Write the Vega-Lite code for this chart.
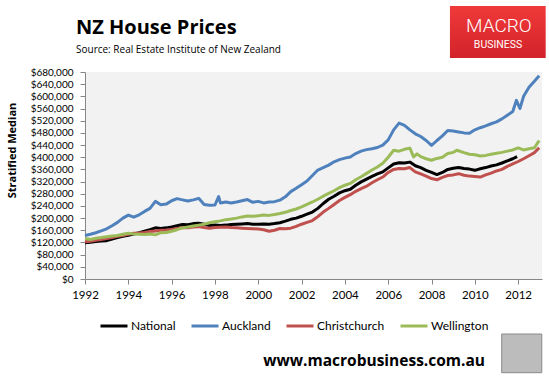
{
  "$schema": "https://vega.github.io/schema/vega-lite/v6.json",
  "autosize": {"type": "none"},
  "width": 457,
  "height": 207,
  "padding": {"left": 85, "top": 72, "right": 7, "bottom": 104},
  "background": "#ffffff",
  "config": {
    "view": {"fill": "#f2f2f2", "stroke": null},
    "font": "Lato",
    "axis": {
      "grid": false,
      "domainColor": "#868686",
      "tickColor": "#868686",
      "tickSize": 5,
      "labelFont": "Lato",
      "labelFontSize": 11,
      "labelColor": "#000000",
      "labelOverlap": false,
      "labelFlush": false,
      "titleFont": "Open Sans",
      "titleFontSize": 11,
      "titleFontWeight": "bold",
      "titleColor": "#000000"
    },
    "axisX": {"labelPadding": 5, "labelFontSize": 11.5},
    "axisY": {"labelPadding": 7, "labelFontSize": 10, "titleX": -73, "titleY": 78, "titleAngle": -90, "titleAlign": "center", "titleBaseline": "middle"}
  },
  "title": {
    "text": "NZ House Prices",
    "subtitle": "Source: Real Estate Institute of New Zealand",
    "anchor": "start",
    "frame": "group",
    "font": "Open Sans",
    "fontSize": 20,
    "fontWeight": "bold",
    "color": "#000000",
    "subtitleFont": "Open Sans",
    "subtitleFontSize": 10,
    "subtitleColor": "#000000",
    "subtitlePadding": 7,
    "offset": -49,
    "dx": -9
  },
  "data": {"values": [
    {"s":"National","t":1992,"v":119000},{"s":"National","t":1992.25,"v":121000},{"s":"National","t":1992.5,"v":123000},{"s":"National","t":1992.75,"v":125000},
    {"s":"National","t":1993,"v":126000},{"s":"National","t":1993.25,"v":131000},{"s":"National","t":1993.5,"v":136000},{"s":"National","t":1993.75,"v":140000},
    {"s":"National","t":1994,"v":144000},{"s":"National","t":1994.25,"v":148000},{"s":"National","t":1994.5,"v":152000},{"s":"National","t":1994.75,"v":157000},
    {"s":"National","t":1995,"v":162000},{"s":"National","t":1995.25,"v":168000},{"s":"National","t":1995.5,"v":166000},{"s":"National","t":1995.75,"v":168000},
    {"s":"National","t":1996,"v":171000},{"s":"National","t":1996.25,"v":175000},{"s":"National","t":1996.5,"v":179000},{"s":"National","t":1996.75,"v":178000},
    {"s":"National","t":1997,"v":182000},{"s":"National","t":1997.25,"v":183000},{"s":"National","t":1997.5,"v":180000},{"s":"National","t":1997.75,"v":176000},
    {"s":"National","t":1998,"v":177000},{"s":"National","t":1998.25,"v":176000},{"s":"National","t":1998.5,"v":177000},{"s":"National","t":1998.75,"v":179000},
    {"s":"National","t":1999,"v":180000},{"s":"National","t":1999.25,"v":181000},{"s":"National","t":1999.5,"v":182000},{"s":"National","t":1999.75,"v":180000},
    {"s":"National","t":2000,"v":180000},{"s":"National","t":2000.25,"v":181000},{"s":"National","t":2000.5,"v":180000},{"s":"National","t":2000.75,"v":182000},
    {"s":"National","t":2001,"v":185000},{"s":"National","t":2001.25,"v":190000},{"s":"National","t":2001.5,"v":196000},{"s":"National","t":2001.75,"v":200000},
    {"s":"National","t":2002,"v":206000},{"s":"National","t":2002.25,"v":213000},{"s":"National","t":2002.5,"v":220000},{"s":"National","t":2002.75,"v":232000},
    {"s":"National","t":2003,"v":248000},{"s":"National","t":2003.25,"v":262000},{"s":"National","t":2003.5,"v":272000},{"s":"National","t":2003.75,"v":283000},
    {"s":"National","t":2004,"v":290000},{"s":"National","t":2004.25,"v":295000},{"s":"National","t":2004.5,"v":308000},{"s":"National","t":2004.75,"v":319000},
    {"s":"National","t":2005,"v":328000},{"s":"National","t":2005.25,"v":337000},{"s":"National","t":2005.5,"v":345000},{"s":"National","t":2005.75,"v":352000},
    {"s":"National","t":2006,"v":365000},{"s":"National","t":2006.25,"v":378000},{"s":"National","t":2006.5,"v":382000},{"s":"National","t":2006.75,"v":381000},
    {"s":"National","t":2007,"v":384000},{"s":"National","t":2007.25,"v":372000},{"s":"National","t":2007.5,"v":366000},{"s":"National","t":2007.75,"v":357000},
    {"s":"National","t":2008,"v":350000},{"s":"National","t":2008.25,"v":343000},{"s":"National","t":2008.5,"v":350000},{"s":"National","t":2008.75,"v":360000},
    {"s":"National","t":2009,"v":364000},{"s":"National","t":2009.25,"v":366000},{"s":"National","t":2009.5,"v":363000},{"s":"National","t":2009.75,"v":361000},
    {"s":"National","t":2010,"v":357000},{"s":"National","t":2010.25,"v":362000},{"s":"National","t":2010.5,"v":366000},{"s":"National","t":2010.75,"v":371000},
    {"s":"National","t":2011,"v":375000},{"s":"National","t":2011.25,"v":381000},{"s":"National","t":2011.5,"v":388000},{"s":"National","t":2011.75,"v":395000},
    {"s":"National","t":2011.95,"v":402000},

    {"s":"Auckland","t":1992,"v":143000},{"s":"Auckland","t":1992.25,"v":147000},{"s":"Auckland","t":1992.5,"v":152000},{"s":"Auckland","t":1992.75,"v":158000},
    {"s":"Auckland","t":1993,"v":165000},{"s":"Auckland","t":1993.25,"v":175000},{"s":"Auckland","t":1993.5,"v":186000},{"s":"Auckland","t":1993.75,"v":200000},
    {"s":"Auckland","t":1994,"v":210000},{"s":"Auckland","t":1994.25,"v":203000},{"s":"Auckland","t":1994.5,"v":211000},{"s":"Auckland","t":1994.75,"v":222000},
    {"s":"Auckland","t":1995,"v":232000},{"s":"Auckland","t":1995.25,"v":255000},{"s":"Auckland","t":1995.5,"v":244000},{"s":"Auckland","t":1995.75,"v":246000},
    {"s":"Auckland","t":1996,"v":257000},{"s":"Auckland","t":1996.25,"v":264000},{"s":"Auckland","t":1996.5,"v":260000},{"s":"Auckland","t":1996.75,"v":256000},
    {"s":"Auckland","t":1997,"v":260000},{"s":"Auckland","t":1997.25,"v":265000},{"s":"Auckland","t":1997.5,"v":245000},{"s":"Auckland","t":1997.75,"v":242000},
    {"s":"Auckland","t":1998,"v":243000},{"s":"Auckland","t":1998.17,"v":271000},{"s":"Auckland","t":1998.25,"v":250000},{"s":"Auckland","t":1998.5,"v":253000},
    {"s":"Auckland","t":1998.75,"v":250000},{"s":"Auckland","t":1999,"v":253000},{"s":"Auckland","t":1999.25,"v":257000},{"s":"Auckland","t":1999.5,"v":261000},
    {"s":"Auckland","t":1999.75,"v":252000},{"s":"Auckland","t":2000,"v":255000},{"s":"Auckland","t":2000.25,"v":250000},{"s":"Auckland","t":2000.5,"v":253000},
    {"s":"Auckland","t":2000.75,"v":254000},{"s":"Auckland","t":2001,"v":259000},{"s":"Auckland","t":2001.25,"v":270000},{"s":"Auckland","t":2001.5,"v":287000},
    {"s":"Auckland","t":2001.75,"v":298000},{"s":"Auckland","t":2002,"v":310000},{"s":"Auckland","t":2002.25,"v":322000},{"s":"Auckland","t":2002.5,"v":340000},
    {"s":"Auckland","t":2002.75,"v":358000},{"s":"Auckland","t":2003,"v":366000},{"s":"Auckland","t":2003.25,"v":374000},{"s":"Auckland","t":2003.5,"v":385000},
    {"s":"Auckland","t":2003.75,"v":392000},{"s":"Auckland","t":2004,"v":397000},{"s":"Auckland","t":2004.25,"v":401000},{"s":"Auckland","t":2004.5,"v":412000},
    {"s":"Auckland","t":2004.75,"v":420000},{"s":"Auckland","t":2005,"v":425000},{"s":"Auckland","t":2005.25,"v":428000},{"s":"Auckland","t":2005.5,"v":432000},
    {"s":"Auckland","t":2005.75,"v":440000},{"s":"Auckland","t":2006,"v":457000},{"s":"Auckland","t":2006.25,"v":490000},{"s":"Auckland","t":2006.5,"v":512000},
    {"s":"Auckland","t":2006.75,"v":505000},{"s":"Auckland","t":2007,"v":490000},{"s":"Auckland","t":2007.25,"v":477000},{"s":"Auckland","t":2007.5,"v":468000},
    {"s":"Auckland","t":2007.75,"v":455000},{"s":"Auckland","t":2008,"v":439000},{"s":"Auckland","t":2008.25,"v":455000},{"s":"Auckland","t":2008.5,"v":470000},
    {"s":"Auckland","t":2008.75,"v":488000},{"s":"Auckland","t":2009,"v":486000},{"s":"Auckland","t":2009.25,"v":483000},{"s":"Auckland","t":2009.5,"v":480000},
    {"s":"Auckland","t":2009.75,"v":479000},{"s":"Auckland","t":2010,"v":490000},{"s":"Auckland","t":2010.25,"v":497000},{"s":"Auckland","t":2010.5,"v":503000},
    {"s":"Auckland","t":2010.75,"v":510000},{"s":"Auckland","t":2011,"v":516000},{"s":"Auckland","t":2011.25,"v":526000},{"s":"Auckland","t":2011.5,"v":538000},
    {"s":"Auckland","t":2011.75,"v":550000},{"s":"Auckland","t":2011.92,"v":587000},{"s":"Auckland","t":2012.08,"v":560000},{"s":"Auckland","t":2012.25,"v":600000},
    {"s":"Auckland","t":2012.5,"v":630000},{"s":"Auckland","t":2012.75,"v":650000},{"s":"Auckland","t":2012.97,"v":668000},

    {"s":"Christchurch","t":1992,"v":122000},{"s":"Christchurch","t":1992.25,"v":124000},{"s":"Christchurch","t":1992.5,"v":127000},{"s":"Christchurch","t":1992.75,"v":130000},
    {"s":"Christchurch","t":1993,"v":133000},{"s":"Christchurch","t":1993.25,"v":136000},{"s":"Christchurch","t":1993.5,"v":140000},{"s":"Christchurch","t":1993.75,"v":143000},
    {"s":"Christchurch","t":1994,"v":147000},{"s":"Christchurch","t":1994.25,"v":150000},{"s":"Christchurch","t":1994.5,"v":151000},{"s":"Christchurch","t":1994.75,"v":153000},
    {"s":"Christchurch","t":1995,"v":156000},{"s":"Christchurch","t":1995.25,"v":158000},{"s":"Christchurch","t":1995.5,"v":160000},{"s":"Christchurch","t":1995.75,"v":161000},
    {"s":"Christchurch","t":1996,"v":163000},{"s":"Christchurch","t":1996.25,"v":166000},{"s":"Christchurch","t":1996.5,"v":169000},{"s":"Christchurch","t":1996.75,"v":168000},
    {"s":"Christchurch","t":1997,"v":171000},{"s":"Christchurch","t":1997.25,"v":172000},{"s":"Christchurch","t":1997.5,"v":169000},{"s":"Christchurch","t":1997.75,"v":167000},
    {"s":"Christchurch","t":1998,"v":169000},{"s":"Christchurch","t":1998.25,"v":170000},{"s":"Christchurch","t":1998.5,"v":171000},{"s":"Christchurch","t":1998.75,"v":169000},
    {"s":"Christchurch","t":1999,"v":168000},{"s":"Christchurch","t":1999.25,"v":167000},{"s":"Christchurch","t":1999.5,"v":166000},{"s":"Christchurch","t":1999.75,"v":165000},
    {"s":"Christchurch","t":2000,"v":164000},{"s":"Christchurch","t":2000.25,"v":162000},{"s":"Christchurch","t":2000.5,"v":157000},{"s":"Christchurch","t":2000.75,"v":160000},
    {"s":"Christchurch","t":2001,"v":166000},{"s":"Christchurch","t":2001.25,"v":165000},{"s":"Christchurch","t":2001.5,"v":167000},{"s":"Christchurch","t":2001.75,"v":173000},
    {"s":"Christchurch","t":2002,"v":180000},{"s":"Christchurch","t":2002.25,"v":186000},{"s":"Christchurch","t":2002.5,"v":192000},{"s":"Christchurch","t":2002.75,"v":205000},
    {"s":"Christchurch","t":2003,"v":220000},{"s":"Christchurch","t":2003.25,"v":232000},{"s":"Christchurch","t":2003.5,"v":245000},{"s":"Christchurch","t":2003.75,"v":258000},
    {"s":"Christchurch","t":2004,"v":268000},{"s":"Christchurch","t":2004.25,"v":277000},{"s":"Christchurch","t":2004.5,"v":288000},{"s":"Christchurch","t":2004.75,"v":297000},
    {"s":"Christchurch","t":2005,"v":305000},{"s":"Christchurch","t":2005.25,"v":316000},{"s":"Christchurch","t":2005.5,"v":326000},{"s":"Christchurch","t":2005.75,"v":335000},
    {"s":"Christchurch","t":2006,"v":350000},{"s":"Christchurch","t":2006.25,"v":360000},{"s":"Christchurch","t":2006.5,"v":363000},{"s":"Christchurch","t":2006.75,"v":362000},
    {"s":"Christchurch","t":2007,"v":366000},{"s":"Christchurch","t":2007.25,"v":352000},{"s":"Christchurch","t":2007.5,"v":345000},{"s":"Christchurch","t":2007.75,"v":338000},
    {"s":"Christchurch","t":2008,"v":330000},{"s":"Christchurch","t":2008.25,"v":326000},{"s":"Christchurch","t":2008.5,"v":334000},{"s":"Christchurch","t":2008.75,"v":340000},
    {"s":"Christchurch","t":2009,"v":342000},{"s":"Christchurch","t":2009.25,"v":346000},{"s":"Christchurch","t":2009.5,"v":341000},{"s":"Christchurch","t":2009.75,"v":338000},
    {"s":"Christchurch","t":2010,"v":337000},{"s":"Christchurch","t":2010.25,"v":335000},{"s":"Christchurch","t":2010.5,"v":342000},{"s":"Christchurch","t":2010.75,"v":348000},
    {"s":"Christchurch","t":2011,"v":355000},{"s":"Christchurch","t":2011.25,"v":360000},{"s":"Christchurch","t":2011.5,"v":370000},{"s":"Christchurch","t":2011.75,"v":378000},
    {"s":"Christchurch","t":2012,"v":386000},{"s":"Christchurch","t":2012.25,"v":395000},{"s":"Christchurch","t":2012.5,"v":405000},{"s":"Christchurch","t":2012.75,"v":415000},
    {"s":"Christchurch","t":2012.97,"v":431000},

    {"s":"Wellington","t":1992,"v":133000},{"s":"Wellington","t":1992.25,"v":130000},{"s":"Wellington","t":1992.5,"v":134000},{"s":"Wellington","t":1992.75,"v":136000},
    {"s":"Wellington","t":1993,"v":139000},{"s":"Wellington","t":1993.25,"v":141000},{"s":"Wellington","t":1993.5,"v":143000},{"s":"Wellington","t":1993.75,"v":147000},
    {"s":"Wellington","t":1994,"v":150000},{"s":"Wellington","t":1994.25,"v":148000},{"s":"Wellington","t":1994.5,"v":147000},{"s":"Wellington","t":1994.75,"v":146000},
    {"s":"Wellington","t":1995,"v":148000},{"s":"Wellington","t":1995.25,"v":145000},{"s":"Wellington","t":1995.5,"v":152000},{"s":"Wellington","t":1995.75,"v":153000},
    {"s":"Wellington","t":1996,"v":157000},{"s":"Wellington","t":1996.25,"v":162000},{"s":"Wellington","t":1996.5,"v":168000},{"s":"Wellington","t":1996.75,"v":171000},
    {"s":"Wellington","t":1997,"v":174000},{"s":"Wellington","t":1997.25,"v":177000},{"s":"Wellington","t":1997.5,"v":180000},{"s":"Wellington","t":1997.75,"v":185000},
    {"s":"Wellington","t":1998,"v":188000},{"s":"Wellington","t":1998.25,"v":191000},{"s":"Wellington","t":1998.5,"v":195000},{"s":"Wellington","t":1998.75,"v":197000},
    {"s":"Wellington","t":1999,"v":200000},{"s":"Wellington","t":1999.25,"v":204000},{"s":"Wellington","t":1999.5,"v":207000},{"s":"Wellington","t":1999.75,"v":206000},
    {"s":"Wellington","t":2000,"v":208000},{"s":"Wellington","t":2000.25,"v":210000},{"s":"Wellington","t":2000.5,"v":209000},{"s":"Wellington","t":2000.75,"v":212000},
    {"s":"Wellington","t":2001,"v":215000},{"s":"Wellington","t":2001.25,"v":219000},{"s":"Wellington","t":2001.5,"v":225000},{"s":"Wellington","t":2001.75,"v":230000},
    {"s":"Wellington","t":2002,"v":237000},{"s":"Wellington","t":2002.25,"v":245000},{"s":"Wellington","t":2002.5,"v":253000},{"s":"Wellington","t":2002.75,"v":262000},
    {"s":"Wellington","t":2003,"v":272000},{"s":"Wellington","t":2003.25,"v":281000},{"s":"Wellington","t":2003.5,"v":290000},{"s":"Wellington","t":2003.75,"v":300000},
    {"s":"Wellington","t":2004,"v":308000},{"s":"Wellington","t":2004.25,"v":314000},{"s":"Wellington","t":2004.5,"v":326000},{"s":"Wellington","t":2004.75,"v":336000},
    {"s":"Wellington","t":2005,"v":347000},{"s":"Wellington","t":2005.25,"v":358000},{"s":"Wellington","t":2005.5,"v":368000},{"s":"Wellington","t":2005.75,"v":380000},
    {"s":"Wellington","t":2006,"v":400000},{"s":"Wellington","t":2006.25,"v":423000},{"s":"Wellington","t":2006.5,"v":420000},{"s":"Wellington","t":2006.75,"v":426000},
    {"s":"Wellington","t":2007,"v":430000},{"s":"Wellington","t":2007.17,"v":401000},{"s":"Wellington","t":2007.33,"v":411000},{"s":"Wellington","t":2007.5,"v":402000},
    {"s":"Wellington","t":2007.75,"v":395000},{"s":"Wellington","t":2008,"v":390000},{"s":"Wellington","t":2008.25,"v":396000},{"s":"Wellington","t":2008.5,"v":400000},
    {"s":"Wellington","t":2008.75,"v":412000},{"s":"Wellington","t":2009,"v":416000},{"s":"Wellington","t":2009.17,"v":423000},{"s":"Wellington","t":2009.5,"v":415000},
    {"s":"Wellington","t":2009.75,"v":410000},{"s":"Wellington","t":2010,"v":408000},{"s":"Wellington","t":2010.25,"v":404000},{"s":"Wellington","t":2010.5,"v":406000},
    {"s":"Wellington","t":2010.75,"v":410000},{"s":"Wellington","t":2011,"v":413000},{"s":"Wellington","t":2011.25,"v":416000},{"s":"Wellington","t":2011.5,"v":420000},
    {"s":"Wellington","t":2011.75,"v":424000},{"s":"Wellington","t":2012,"v":431000},{"s":"Wellington","t":2012.25,"v":424000},{"s":"Wellington","t":2012.5,"v":428000},
    {"s":"Wellington","t":2012.75,"v":431000},{"s":"Wellington","t":2012.97,"v":455000}
  ]},
  "layer": [
    {
      "mark": {"type": "line", "strokeWidth": 3, "strokeJoin": "round"},
      "encoding": {
        "x": {
          "field": "t", "type": "quantitative",
          "scale": {"domain": [1992, 2013.1], "nice": false, "zero": false},
          "axis": {"title": null, "values": [1992, 1994, 1996, 1998, 2000, 2002, 2004, 2006, 2008, 2010, 2012], "format": "d"}
        },
        "y": {
          "field": "v", "type": "quantitative",
          "scale": {"domain": [0, 680000], "nice": false},
          "axis": {"title": "Stratified Median", "values": [0, 40000, 80000, 120000, 160000, 200000, 240000, 280000, 320000, 360000, 400000, 440000, 480000, 520000, 560000, 600000, 640000, 680000], "format": "$,.0f"}
        },
        "color": {
          "field": "s", "type": "nominal",
          "scale": {
            "domain": ["National", "Auckland", "Christchurch", "Wellington"],
            "range": ["#000000", "#4f81bd", "#c0504d", "#9bbb59"]
          },
          "legend": {
            "title": null,
            "orient": "none",
            "legendX": 14,
            "legendY": 239,
            "direction": "horizontal",
            "symbolType": "stroke",
            "symbolStrokeWidth": 3,
            "symbolSize": 729,
            "labelFont": "Lato",
            "labelFontSize": 12,
            "labelColor": "#000000",
            "labelOffset": 2,
            "columnPadding": 9
          }
        }
      }
    },
    {
      "data": {"values": [{}]},
      "mark": {"type": "rect", "fill": {"gradient": "linear", "x1": 0, "y1": 0, "x2": 0, "y2": 1, "stops": [{"offset": 0, "color": "#f03a3a"}, {"offset": 1, "color": "#d2222a"}]}},
      "encoding": {
        "x": {"datum": 2008.85, "axis": {"title": null, "values": [1992, 1994, 1996, 1998, 2000, 2002, 2004, 2006, 2008, 2010, 2012], "format": "d"}},
        "x2": {"datum": 2013.27},
        "y": {"datum": 896800, "axis": {"title": "Stratified Median", "values": [0, 40000, 80000, 120000, 160000, 200000, 240000, 280000, 320000, 360000, 400000, 440000, 480000, 520000, 560000, 600000, 640000, 680000], "format": "$,.0f"}},
        "y2": {"datum": 726000}
      }
    },
    {
      "data": {"values": [{"label": "MACRO"}]},
      "mark": {"type": "text", "font": "Roboto", "fontWeight": 300, "fontSize": 19, "color": "#ffffff", "align": "center", "baseline": "alphabetic"},
      "encoding": {
        "x": {"datum": 2011.11, "axis": {"title": null, "values": [1992, 1994, 1996, 1998, 2000, 2002, 2004, 2006, 2008, 2010, 2012], "format": "d"}},
        "y": {"datum": 810000, "axis": {"title": "Stratified Median", "values": [0, 40000, 80000, 120000, 160000, 200000, 240000, 280000, 320000, 360000, 400000, 440000, 480000, 520000, 560000, 600000, 640000, 680000], "format": "$,.0f"}},
        "text": {"field": "label"}
      }
    },
    {
      "data": {"values": [{"label": "BUSINESS"}]},
      "mark": {"type": "text", "font": "Roboto", "fontWeight": 400, "fontSize": 10.5, "color": "#ffffff", "align": "center", "baseline": "alphabetic"},
      "encoding": {
        "x": {"datum": 2011.07, "axis": {"title": null, "values": [1992, 1994, 1996, 1998, 2000, 2002, 2004, 2006, 2008, 2010, 2012], "format": "d"}},
        "y": {"datum": 760000, "axis": {"title": "Stratified Median", "values": [0, 40000, 80000, 120000, 160000, 200000, 240000, 280000, 320000, 360000, 400000, 440000, 480000, 520000, 560000, 600000, 640000, 680000], "format": "$,.0f"}},
        "text": {"field": "label"}
      }
    },
    {
      "data": {"values": [{"label": "www.macrobusiness.com.au"}]},
      "mark": {"type": "text", "font": "Open Sans", "fontWeight": "bold", "fontSize": 15.5, "color": "#000000", "align": "center", "baseline": "alphabetic"},
      "encoding": {
        "x": {"datum": 2005.35, "axis": {"title": null, "values": [1992, 1994, 1996, 1998, 2000, 2002, 2004, 2006, 2008, 2010, 2012], "format": "d"}},
        "y": {"datum": -285800, "axis": {"title": "Stratified Median", "values": [0, 40000, 80000, 120000, 160000, 200000, 240000, 280000, 320000, 360000, 400000, 440000, 480000, 520000, 560000, 600000, 640000, 680000], "format": "$,.0f"}},
        "text": {"field": "label"}
      }
    },
    {
      "data": {"values": [{}]},
      "mark": {"type": "rect", "fill": "#bcbcbc", "stroke": "#8a8a8a", "strokeWidth": 1},
      "encoding": {
        "x": {"datum": 2011.24, "axis": {"title": null, "values": [1992, 1994, 1996, 1998, 2000, 2002, 2004, 2006, 2008, 2010, 2012], "format": "d"}},
        "x2": {"datum": 2013.09},
        "y": {"datum": -180700, "axis": {"title": "Stratified Median", "values": [0, 40000, 80000, 120000, 160000, 200000, 240000, 280000, 320000, 360000, 400000, 440000, 480000, 520000, 560000, 600000, 640000, 680000], "format": "$,.0f"}},
        "y2": {"datum": -307800}
      }
    }
  ]
}
